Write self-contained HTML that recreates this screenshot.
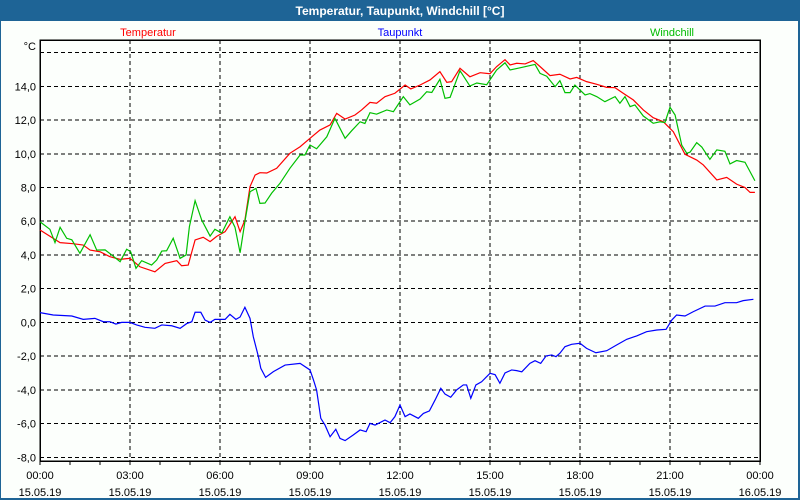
<!DOCTYPE html>
<html><head><meta charset="utf-8"><style>
html,body{margin:0;padding:0;background:#fff;}
svg{display:block;font-family:"Liberation Sans","DejaVu Sans",sans-serif;}
</style></head><body>
<svg width="800" height="500" viewBox="0 0 800 500">
<rect x="0" y="0" width="800" height="500" fill="#1e6496"/>
<rect x="1" y="21" width="797" height="477" fill="#fcfffc"/>
<text x="400" y="15" text-anchor="middle" fill="#fff" font-size="12" font-weight="bold">Temperatur, Taupunkt, Windchill [°C]</text>
<text x="148" y="36" text-anchor="middle" fill="#ff0000" font-size="11">Temperatur</text>
<text x="400" y="36" text-anchor="middle" fill="#0000ff" font-size="11">Taupunkt</text>
<text x="672" y="36" text-anchor="middle" fill="#00bb00" font-size="11">Windchill</text>
<text x="36" y="50" text-anchor="end" fill="#000" font-size="11">°C</text>
<g id="grid"></g>
<g id="axes"></g>
<g id="series"></g>
</svg>
<script>
const yTicks=[-8,-6,-4,-2,0,2,4,6,8,10,12,14,16];
const xTickHours=[0,3,6,9,12,15,18,21,24];
const xTickTimes=["00:00","03:00","06:00","09:00","12:00","15:00","18:00","21:00","00:00"];
const xTickDates=["15.05.19","15.05.19","15.05.19","15.05.19","15.05.19","15.05.19","15.05.19","15.05.19","16.05.19"];
const tempH=[0,0.67,1.1,1.44,1.67,2.0,2.33,2.67,3.0,3.33,3.83,4.17,4.56,4.72,4.94,5.17,5.44,5.67,5.89,6.17,6.5,6.67,6.83,7.0,7.17,7.33,7.56,7.89,8.33,8.67,9.0,9.33,9.67,9.89,10.17,10.5,10.72,11.0,11.22,11.5,11.83,12.17,12.36,12.67,13.0,13.33,13.56,13.72,14.0,14.33,14.67,15.0,15.22,15.5,15.67,15.89,16.17,16.44,16.67,17.0,17.33,17.67,17.89,18.22,18.56,18.89,19.17,19.44,19.78,20.11,20.44,20.78,21.11,21.5,21.89,22.11,22.56,22.89,23.22,23.5,23.67,23.83];
const tempV=[5.48,4.73,4.67,4.59,4.29,4.19,3.9,3.74,3.8,3.3,3.0,3.5,3.66,3.36,3.4,4.89,5.05,4.79,5.1,5.38,6.27,5.38,6.07,8.05,8.74,8.88,8.86,9.14,10.03,10.42,10.92,11.41,11.71,12.4,12.06,12.3,12.6,13.05,13.0,13.39,13.59,14.08,13.85,14.08,14.38,14.87,14.24,14.28,15.07,14.57,14.81,14.75,15.17,15.58,15.27,15.37,15.33,15.53,15.17,14.64,14.72,14.44,14.53,14.28,14.12,13.94,13.92,13.59,13.19,12.6,12.14,11.9,11.31,9.97,9.63,9.34,8.45,8.6,8.2,8.0,7.71,7.71];
const dewH=[0,0.44,1.06,1.44,1.83,2.11,2.33,2.53,2.72,3.0,3.22,3.5,3.83,4.06,4.39,4.67,4.89,5.06,5.17,5.36,5.5,5.67,5.83,6.17,6.33,6.53,6.67,6.83,7.0,7.11,7.28,7.36,7.52,7.78,8.17,8.67,9.0,9.11,9.22,9.36,9.5,9.67,9.86,10.0,10.17,10.44,10.67,10.87,11.0,11.17,11.5,11.67,11.83,12.0,12.17,12.33,12.61,12.78,12.98,13.17,13.36,13.5,13.69,13.89,14.11,14.22,14.36,14.53,14.72,15.0,15.17,15.33,15.5,15.72,15.89,16.06,16.33,16.5,16.69,16.87,17.06,17.2,17.33,17.5,17.72,18.0,18.22,18.53,18.89,19.22,19.56,19.89,20.22,20.56,20.87,21.06,21.22,21.5,21.78,22.17,22.5,22.83,23.22,23.44,23.78];
const dewV=[0.58,0.44,0.38,0.18,0.24,0.04,0.04,-0.1,0.0,0.0,-0.15,-0.29,-0.35,-0.15,-0.2,-0.35,-0.07,0.04,0.6,0.6,0.14,0.0,0.18,0.18,0.48,0.18,0.32,0.9,0.24,-0.85,-2.03,-2.72,-3.26,-2.92,-2.53,-2.43,-2.82,-3.38,-4.01,-5.69,-6.09,-6.78,-6.34,-6.88,-7.01,-6.68,-6.38,-6.48,-5.99,-6.09,-5.79,-5.95,-5.59,-4.9,-5.59,-5.43,-5.69,-5.4,-5.25,-4.6,-3.91,-4.25,-4.44,-4.0,-3.71,-3.71,-4.5,-3.71,-3.52,-3.02,-3.1,-3.61,-3.0,-2.82,-2.86,-2.93,-2.43,-2.27,-2.43,-1.99,-1.93,-2.03,-1.83,-1.44,-1.3,-1.24,-1.54,-1.8,-1.68,-1.34,-1.0,-0.8,-0.55,-0.45,-0.41,0.14,0.44,0.38,0.64,0.97,0.97,1.17,1.17,1.29,1.37];
const windH=[0,0.33,0.5,0.67,0.89,1.06,1.33,1.67,1.89,2.17,2.39,2.67,2.89,3.02,3.2,3.39,3.72,3.89,4.06,4.22,4.44,4.67,4.87,4.98,5.17,5.39,5.67,5.83,6.06,6.33,6.5,6.67,6.83,7.0,7.2,7.33,7.5,7.72,8.0,8.33,8.67,8.83,9.0,9.22,9.56,9.83,10.17,10.39,10.67,10.83,11.0,11.22,11.56,11.78,12.11,12.33,12.67,12.89,13.06,13.33,13.5,13.67,14.0,14.33,14.56,14.89,15.22,15.5,15.67,16.0,16.5,16.67,16.89,17.17,17.33,17.5,17.67,17.83,18.17,18.33,18.56,18.83,19.17,19.33,19.5,19.67,19.83,20.11,20.44,20.67,20.83,21.0,21.17,21.39,21.56,21.67,21.89,22.06,22.33,22.56,22.83,23.0,23.22,23.5,23.83];
const windV=[5.97,5.52,4.73,5.64,4.99,4.9,4.1,5.2,4.29,4.3,4.0,3.6,4.34,4.2,3.21,3.66,3.4,3.7,4.23,4.25,4.99,3.8,4.0,5.68,7.22,6.07,5.12,5.52,5.3,6.27,5.64,4.13,5.97,7.75,7.95,7.06,7.08,7.66,8.25,9.14,9.93,9.93,10.52,10.3,11.01,12.1,10.92,11.37,11.9,11.8,12.44,12.35,12.6,12.5,13.39,12.9,13.25,13.68,13.64,14.42,13.29,13.35,14.93,14.02,14.2,14.1,14.97,15.4,14.97,15.1,15.3,14.77,14.6,13.98,14.34,13.63,13.63,14.08,13.49,13.57,13.39,13.09,13.39,13.0,13.39,12.8,12.9,12.24,11.81,11.9,11.85,12.76,12.3,10.52,10.03,10.1,10.66,10.4,9.67,10.23,10.15,9.4,9.6,9.5,8.4];

const NS="http://www.w3.org/2000/svg";
const X0=40,X1=760,Y0=40,Y1=461;
function xs(h){return X0+h*30;}
function ys(v){return 322.4-v*16.86;}
function mk(tag,attrs,parent){const e=document.createElementNS(NS,tag);for(const k in attrs)e.setAttribute(k,attrs[k]);parent.appendChild(e);return e;}
const grid=document.getElementById('grid'),axes=document.getElementById('axes'),series=document.getElementById('series');
yTicks.forEach(v=>{
  const l=mk('line',{x1:X0,x2:X1,y1:ys(v),y2:ys(v),stroke:'#000','stroke-dasharray':'4,3','stroke-width':1,'shape-rendering':'crispEdges'},grid);
  
  
  if(v<16){
    const t=mk('text',{x:36,y:ys(v)+4,'text-anchor':'end','font-size':11,fill:'#000'},axes);
    t.textContent=v.toFixed(1).replace('.',',');
    
    
  }
});
xTickHours.forEach((h,i)=>{
  if(h>0&&h<24){
    const l=mk('line',{x1:xs(h),x2:xs(h),y1:Y0,y2:Y1,stroke:'#000','stroke-dasharray':'4,3','stroke-width':1,'shape-rendering':'crispEdges'},grid);
    
    
  }
  const t=mk('text',{x:xs(h),y:479,'text-anchor':'middle','font-size':11,fill:'#000'},axes);
  t.textContent=xTickTimes[i];
  
  
  const d=mk('text',{x:xs(h),y:496,'text-anchor':'middle','font-size':11,fill:'#000'},axes);
  d.textContent=xTickDates[i];
  
  
});
for(let h=0;h<=24;h++){
  const l=mk('line',{x1:xs(h),x2:xs(h),y1:Y1,y2:Y1+4,stroke:'#000','shape-rendering':'crispEdges'},axes);
  
  
}
const frame=mk('rect',{x:X0,y:Y0,width:X1-X0,height:Y1-Y0,fill:'none',stroke:'#000','stroke-width':1.5,'shape-rendering':'crispEdges'},axes);


function line(H,V,color,name){
  const p=mk('polyline',{points:H.map((h,i)=>xs(h)+','+ys(V[i])).join(' '),fill:'none',stroke:color,'stroke-width':1.2},series);
  
  
}
line(dewH,dewV,'#0000ff','taupunkt-line');
line(tempH,tempV,'#ff0000','temperatur-line');
line(windH,windV,'#00c000','windchill-line');
</script>
</body></html>
